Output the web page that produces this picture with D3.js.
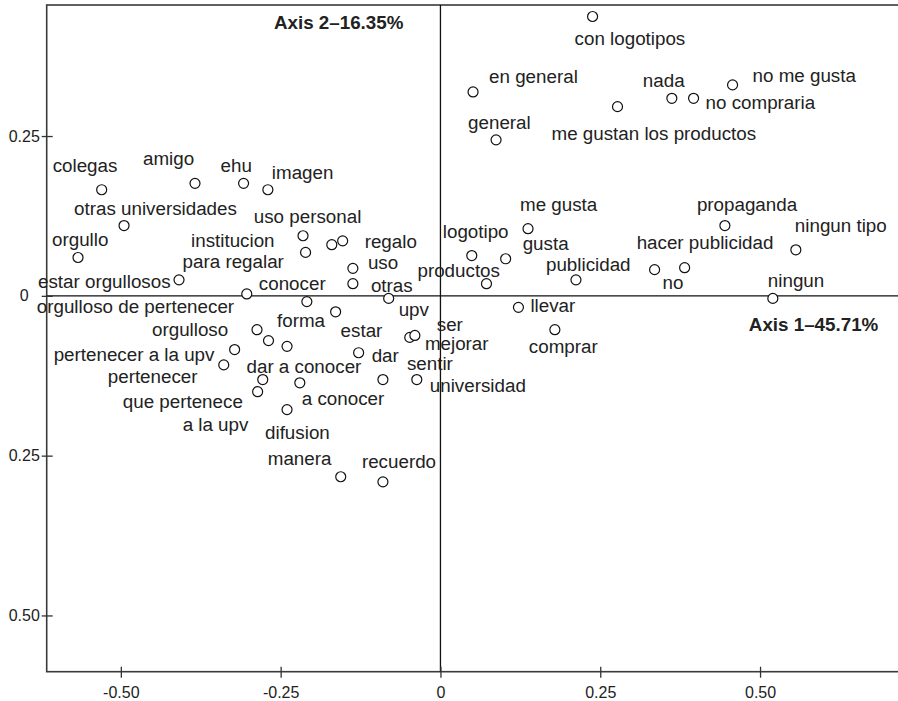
<!DOCTYPE html>
<html>
<head>
<meta charset="utf-8">
<script src="https://cdn.jsdelivr.net/npm/d3@7"></script>
<style>
  body { margin: 0; background: #fff; }
  svg { display: block; font-family: "Liberation Sans", Arial, Helvetica, sans-serif; }
  .pt-label { font-size: 18.8px; fill: #222; }
  .axis-title { font-size: 18.8px; font-weight: bold; fill: #222; }
  .tick text { font-size: 16px; fill: #222; font-family: "Liberation Sans", Arial, sans-serif; }
</style>
</head>
<body>
<div id="chart"></div>
<script>
//------------------------------- DATA -----------------------------------------
var words = [
  "con logotipos", "en general", "general", "me gustan los productos", "nada",
  "no compraria", "no me gusta", "me gusta", "propaganda", "ningun tipo",
  "logotipo", "gusta", "hacer publicidad", "no", "productos",
  "publicidad", "ningun", "llevar", "comprar", "colegas",
  "amigo", "ehu", "imagen", "otras universidades", "orgullo",
  "estar orgullosos", "institucion", "para regalar", "uso personal", "regalo",
  "uso", "otras", "orgulloso de pertenecer", "conocer", "estar",
  "upv", "ser", "mejorar", "orgulloso", "dar a conocer",
  "forma", "pertenecer a la upv", "pertenecer", "dar", "que pertenece",
  "a la upv", "a conocer", "sentir", "universidad", "difusion",
  "manera", "recuerdo"
];

// Axis 1 coordinates
var axis1 = [
  0.238, 0.051, 0.087, 0.277, 0.362,
  0.396, 0.457, 0.137, 0.445, 0.556,
  0.049, 0.102, 0.382, 0.335, 0.072,
  0.212, 0.520, 0.122, 0.179, -0.530,
  -0.384, -0.308, -0.270, -0.495, -0.567,
  -0.409, -0.215, -0.211, -0.170, -0.153,
  -0.137, -0.137, -0.303, -0.209, -0.164,
  -0.081, -0.048, -0.040, -0.287, -0.269,
  -0.240, -0.322, -0.339, -0.128, -0.278,
  -0.286, -0.220, -0.090, -0.037, -0.240,
  -0.156, -0.090
];

// Axis 2 coordinates
var axis2 = [
  0.437, 0.319, 0.244, 0.296, 0.309,
  0.309, 0.330, 0.105, 0.110, 0.072,
  0.063, 0.058, 0.044, 0.041, 0.019,
  0.025, -0.004, -0.018, -0.053, 0.166,
  0.176, 0.176, 0.166, 0.110, 0.060,
  0.025, 0.094, 0.068, 0.080, 0.086,
  0.043, 0.019, 0.003, -0.009, -0.025,
  -0.004, -0.065, -0.062, -0.053, -0.070,
  -0.079, -0.084, -0.108, -0.089, -0.131,
  -0.150, -0.136, -0.131, -0.131, -0.178,
  -0.283, -0.291
];

var xTicks = [-0.5, -0.25, 0, 0.25, 0.5];
var yTicks = [0.25, 0, -0.25, -0.5];
var axisTitles = ["Axis 1\u201345.71%", "Axis 2\u201316.35%"];

// label placement (pixel offset of text start / baseline from its point)
var labelOffsets = [
  [-18, 28], [16, -9], [-28, -11], [-66, 33], [-29, -11],
  [12, 11], [20, -3], [-8, -18], [-28, -15], [-1, -18],
  [-29, -18], [17, -9], [-48, -19], [8, 19], [-69, -7],
  [-30, -9], [-5, -11], [12, 5], [-26, 23], [-49, -18],
  [-52, -18], [-23, -11], [4, -11], [-50, -11], [-26, -11],
  [-141, 8], [-112, 11], [-123, 16], [-78, -22], [22, 7],
  [15, 1], [18, 8], [-210, 19], [-48, -12], [5, 25],
  [10, 18], [27, -6], [10, 15], [-105, 6], [-22, 32],
  [-10, -19], [-181, 11], [-116, 18], [13, 9], [-140, 28],
  [-75, 39], [2, 22], [24, -10], [13, 12], [-22, 29],
  [-73, -12], [-21, -14]
];

//------------------------------- SET-UP ---------------------------------------
var width = 898;
var height = 701;

var points = words.map(function(w, i) {
  return { word: w, a1: axis1[i], a2: axis2[i], off: labelOffsets[i] };
});

var xScale = d3.scaleLinear().domain([-0.616, 0.718]).range([46.7, 899.4]);
var yScale = d3.scaleLinear().domain([0.455, -0.588]).range([5, 671.7]);

var svg = d3.select("#chart")
  .append("svg")
  .attr("width", width)
  .attr("height", height);

// frame (right side runs off the page like in the print)
svg.append("rect")
  .attr("x", xScale.range()[0])
  .attr("y", yScale.range()[0])
  .attr("width", xScale.range()[1] - xScale.range()[0] + 2)
  .attr("height", yScale.range()[1] - yScale.range()[0])
  .attr("fill", "none")
  .attr("stroke", "#3a3a3a")
  .attr("stroke-width", 1.6);

// zero lines
svg.append("line")
  .attr("x1", xScale(0)).attr("x2", xScale(0))
  .attr("y1", yScale.range()[0]).attr("y2", yScale.range()[1])
  .attr("stroke", "#111").attr("stroke-width", 1.3);

svg.append("line")
  .attr("x1", xScale.range()[0]).attr("x2", width)
  .attr("y1", yScale(0)).attr("y2", yScale(0))
  .attr("stroke", "#111").attr("stroke-width", 1.3);

//------------------------------- AXES -----------------------------------------
var fmtX = function(d) { return d === 0 ? "0" : d3.format(".2f")(d).replace("\u2212", "-"); };
var fmtY = function(d) { return d === 0 ? "0" : d3.format(".2f")(Math.abs(d)); };

var xAxisG = svg.append("g")
  .attr("transform", "translate(0," + yScale.range()[1] + ")")
  .call(d3.axisBottom(xScale).tickValues(xTicks).tickFormat(fmtX).tickSize(6));
xAxisG.select(".domain").remove();
xAxisG.selectAll(".tick line").attr("y1", -5).attr("y2", 6).attr("stroke", "#333").attr("stroke-width", 1.3);
xAxisG.selectAll(".tick text").attr("y", 15);

// y labels sit centred in the left margin
var yAxisG = svg.append("g")
  .attr("transform", "translate(" + xScale.range()[0] + ",0)")
  .call(d3.axisLeft(yScale).tickValues(yTicks).tickFormat(fmtY).tickSize(6));
yAxisG.select(".domain").remove();
yAxisG.selectAll(".tick line").attr("x1", -5).attr("x2", 6).attr("stroke", "#333").attr("stroke-width", 1.3);
yAxisG.selectAll(".tick text").attr("x", -22.5).attr("text-anchor", "middle");

//------------------------------- POINTS ---------------------------------------
svg.selectAll("circle.pt")
  .data(points)
  .enter()
  .append("circle")
  .attr("class", "pt")
  .attr("cx", function(d) { return xScale(d.a1); })
  .attr("cy", function(d) { return yScale(d.a2); })
  .attr("r", 5)
  .attr("fill", "#fff")
  .attr("stroke", "#111")
  .attr("stroke-width", 1.2);

svg.selectAll("text.pt-label")
  .data(points)
  .enter()
  .append("text")
  .attr("class", "pt-label")
  .attr("x", function(d) { return xScale(d.a1) + d.off[0]; })
  .attr("y", function(d) { return yScale(d.a2) + d.off[1]; })
  .text(function(d) { return d.word; });

// axis titles
svg.append("text")
  .attr("class", "axis-title")
  .attr("text-anchor", "end")
  .attr("x", xScale(0) - 37)
  .attr("y", yScale.range()[0] + 24)
  .text(axisTitles[1]);

svg.append("text")
  .attr("class", "axis-title")
  .attr("text-anchor", "end")
  .attr("x", xScale(0.685))
  .attr("y", yScale(0) + 35)
  .text(axisTitles[0]);
</script>
</body>
</html>
